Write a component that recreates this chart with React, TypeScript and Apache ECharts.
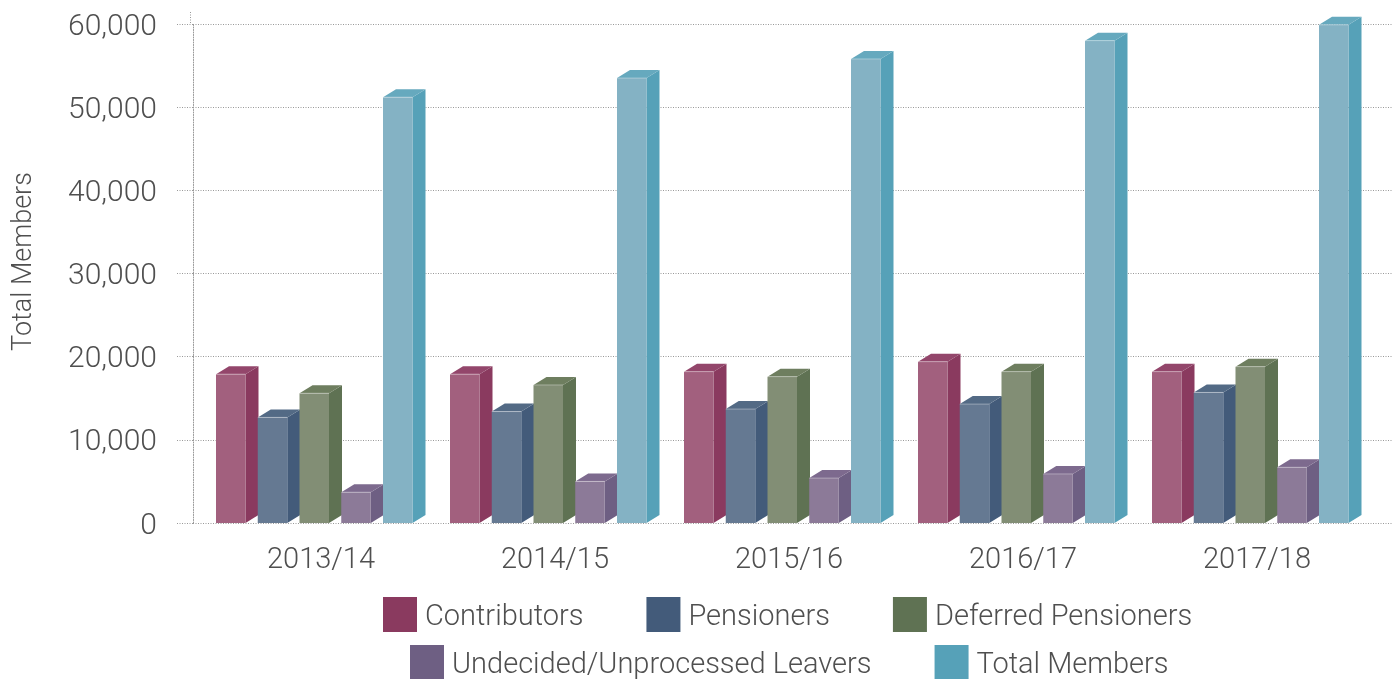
import React, { useEffect, useRef } from "react";
import * as echarts from "echarts";

const categories = ["2013/14", "2014/15", "2015/16", "2016/17", "2017/18"];
const seriesNames = [
  "Contributors",
  "Pensioners",
  "Deferred Pensioners",
  "Undecided/Unprocessed Leavers",
  "Total Members",
];
const contributors = [17900, 17900, 18200, 19400, 18200];
const pensioners = [12700, 13400, 13700, 14300, 15700];
const deferred = [15600, 16600, 17600, 18200, 18800];
const undecided = [3700, 5000, 5400, 5900, 6700];
const totalMembers = [51200, 53500, 55800, 58000, 59900];
const seriesValues = [contributors, pensioners, deferred, undecided, totalMembers];

const yTicks = [0, 10000, 20000, 30000, 40000, 50000, 60000];

// colors: side (also legend), front, top
const sideColors = ["#8A3A5F", "#435B7A", "#5F7253", "#6E5F83", "#56A1B8"];
const frontColors = ["#A2607E", "#657992", "#828E75", "#8C7A98", "#84B2C4"];
const topColors = ["#93466B", "#536A85", "#6E7E5F", "#7D6A8E", "#66A9BE"];

const FONT = "Roboto";
const TEXT_COLOR = "#4f4f4f";
const GRID_COLOR = "#999999";
const DOT: number[] = [1, 1.5];

function fmt(v: number) {
  return String(v).replace(/\B(?=(\d{3})+(?!\d))/g, ",");
}

export default function App() {
  const ref = useRef<HTMLDivElement>(null);
  useEffect(() => {
    if (!ref.current) return;
    const chart = echarts.init(ref.current, undefined, { renderer: "svg" });

    const makeRender = (si: number) => (params: any, api: any) => {
      const cat = api.value(0);
      const val = api.value(1);
      const c = api.coord([cat, 0]);
      const t = api.coord([cat, val]);
      const bw = api.size([1, 0])[0];
      const bandStart = c[0] - bw / 2;
      const fl = bandStart + bw * (12 / 234) + si * bw * (41.75 / 234);
      const fw = bw * (29.5 / 234);
      const dx = bw * (13 / 234);
      const dy = 8;
      const fr = fl + fw;
      const top = t[1];
      const bot = c[1];
      return {
        type: "group",
        children: [
          {
            type: "polygon",
            shape: {
              points: [
                [fr, top],
                [fr + dx, top - dy],
                [fr + dx, bot - dy],
                [fr, bot],
              ],
            },
            style: { fill: sideColors[si] },
          },
          {
            type: "polygon",
            shape: {
              points: [
                [fl, top],
                [fl + dx, top - dy],
                [fr + dx, top - dy],
                [fr, top],
              ],
            },
            style: { fill: topColors[si] },
          },
          {
            type: "rect",
            shape: { x: fl, y: top, width: fw, height: bot - top },
            style: { fill: frontColors[si] },
          },
          {
            type: "line",
            shape: { x1: fl, y1: top, x2: fr, y2: top },
            style: { stroke: "rgba(255,255,255,0.35)", lineWidth: 1 },
          },
        ],
      };
    };

    const series = seriesNames.map((name, si) => ({
      type: "custom",
      name,
      xAxisIndex: 1,
      yAxisIndex: 1,
      renderItem: makeRender(si),
      itemStyle: { color: sideColors[si] },
      encode: { x: 0, y: 1 },
      data: seriesValues[si].map((v, i) => [i, v]),
    }));

    const legendText = {
      fontFamily: FONT,
      fontWeight: 300,
      fontSize: 29,
      color: TEXT_COLOR,
      padding: [0, 0, 0, 3],
    };

    chart.setOption({
      animation: false,
      grid: [
        { left: 190, right: 0, top: 24, bottom: 156 },
        { left: 204, right: 18, top: 24, bottom: 156 },
      ],
      xAxis: [
        { type: "category", gridIndex: 0, data: categories, show: false },
        {
          type: "category",
          gridIndex: 1,
          data: categories,
          axisLine: { show: false },
          axisTick: { show: false },
          axisLabel: {
            margin: 20,
            fontFamily: FONT,
            fontWeight: 300,
            fontSize: 29,
            color: TEXT_COLOR,
          },
        },
      ],
      yAxis: [
        {
          type: "value",
          gridIndex: 0,
          min: yTicks[0],
          max: yTicks[yTicks.length - 1],
          interval: yTicks[1] - yTicks[0],
          name: "Total Members",
          nameLocation: "middle",
          nameGap: 158,
          nameTextStyle: {
            fontFamily: FONT,
            fontWeight: 300,
            fontSize: 27,
            color: TEXT_COLOR,
            padding: [0, 0, 0, 24],
          },
          axisLine: {
            show: true,
            lineStyle: { color: GRID_COLOR, type: DOT, width: 1 },
          },
          axisTick: {
            show: true,
            length: 17,
            lineStyle: { color: GRID_COLOR, type: DOT, width: 1 },
          },
          splitLine: {
            show: true,
            lineStyle: { color: GRID_COLOR, type: DOT, width: 1 },
          },
          axisLabel: {
            margin: 36,
            formatter: (v: number) => fmt(v),
            fontFamily: FONT,
            fontWeight: 300,
            fontSize: 30,
            color: TEXT_COLOR,
          },
        },
        {
          type: "value",
          gridIndex: 1,
          min: yTicks[0],
          max: yTicks[yTicks.length - 1],
          interval: yTicks[1] - yTicks[0],
          show: false,
          splitLine: { show: false },
        },
      ],
      legend: [
        {
          data: seriesNames.slice(0, 3),
          left: 383,
          top: 597,
          padding: 0,
          itemWidth: 34,
          itemHeight: 35,
          itemGap: 63,
          icon: "rect",
          selectedMode: false,
          textStyle: legendText,
        },
        {
          data: seriesNames.slice(3),
          left: 410,
          top: 645,
          padding: 0,
          itemWidth: 34,
          itemHeight: 35,
          itemGap: 63,
          icon: "rect",
          selectedMode: false,
          textStyle: legendText,
        },
      ],
      graphic: [
        {
          type: "line",
          shape: { x1: 190.5, y1: 12, x2: 190.5, y2: 24 },
          style: { stroke: GRID_COLOR, lineWidth: 1, lineDash: DOT },
        },
      ],
      series,
    });
    return () => chart.dispose();
  }, []);
  return (
    <div
      ref={ref}
      style={{ position: "fixed", left: 0, top: 0, width: 1392, height: 679 }}
    />
  );
}
